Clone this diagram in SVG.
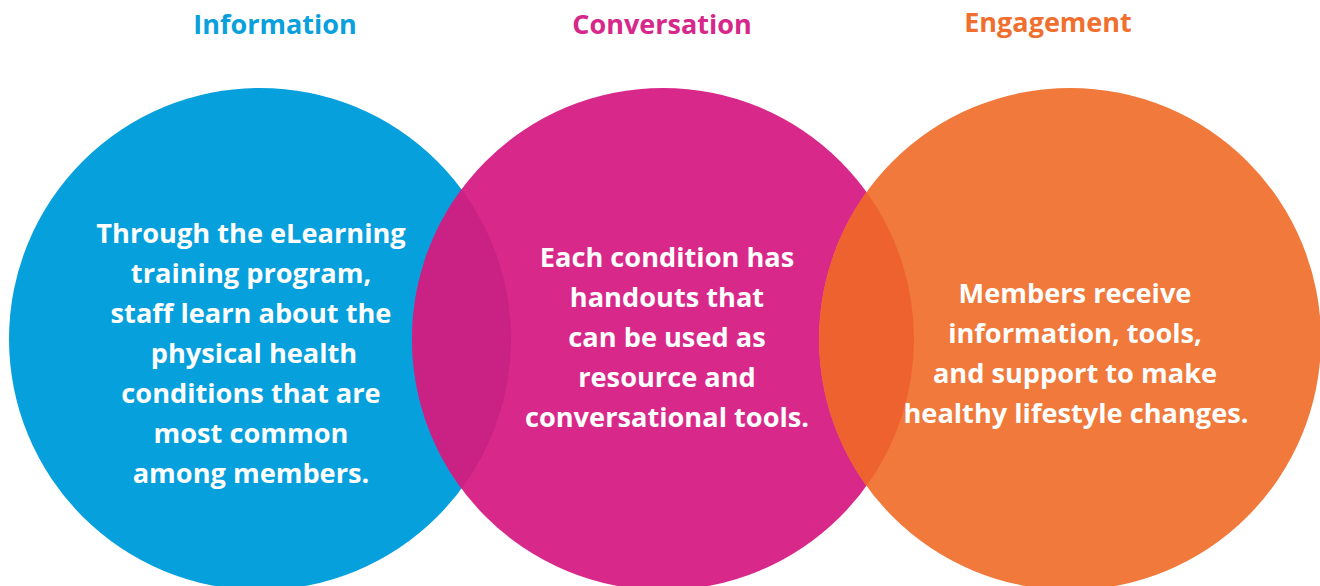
<svg xmlns="http://www.w3.org/2000/svg" width="1320" height="586" viewBox="0 0 1320 586">
<style>
.title{font-family:"Open Sans","Noto Sans","Liberation Sans",sans-serif;font-weight:700;font-size:27px;text-anchor:middle}
.body{font-family:"Open Sans","Noto Sans","Liberation Sans",sans-serif;font-weight:700;font-size:27.2px;fill:#ffffff;text-anchor:middle}
</style>
<rect width="1320" height="586" fill="#ffffff"/>
<g id="information">
<circle cx="260" cy="339" r="251" fill="#06A0DD"/>
<text class="title" x="275" y="34" fill="#0AA0DC">Information</text>
</g>
<g id="conversation">
<circle cx="663" cy="339" r="251" fill="#D8298A"/>
<text class="title" x="662" y="34" fill="#D6288A">Conversation</text>
</g>
<g id="engagement">
<circle cx="1070" cy="339" r="251" fill="#F0793B"/>
<text class="title" x="1048" y="32" fill="#F06F2E">Engagement</text>
</g>
<g id="overlaps">
<path d="M461.5 189.3 A251 251 0 0 1 461.5 488.7 A251 251 0 0 1 461.5 189.3 Z" fill="#C92184"/>
<path d="M866.5 192.1 A251 251 0 0 1 866.5 485.9 A251 251 0 0 1 866.5 192.1 Z" fill="#EE6230"/>
</g>
<g id="texts">
<text class="body" x="251" y="243">Through the eLearning</text>
<text class="body" x="251" y="283">training program,</text>
<text class="body" x="251" y="323">staff learn about the</text>
<text class="body" x="254" y="363">physical health</text>
<text class="body" x="251" y="403">conditions that are</text>
<text class="body" x="251" y="443">most common</text>
<text class="body" x="251" y="483">among members.</text>
<text class="body" x="667" y="267">Each condition has</text>
<text class="body" x="667" y="307">handouts that</text>
<text class="body" x="667" y="347">can be used as</text>
<text class="body" x="667" y="387">resource and</text>
<text class="body" x="667" y="427">conversational tools.</text>
<text class="body" x="1075" y="303">Members receive</text>
<text class="body" x="1075" y="343">information, tools,</text>
<text class="body" x="1075" y="383">and support to make</text>
<text class="body" x="1076" y="423">healthy lifestyle changes.</text>
</g>
</svg>
